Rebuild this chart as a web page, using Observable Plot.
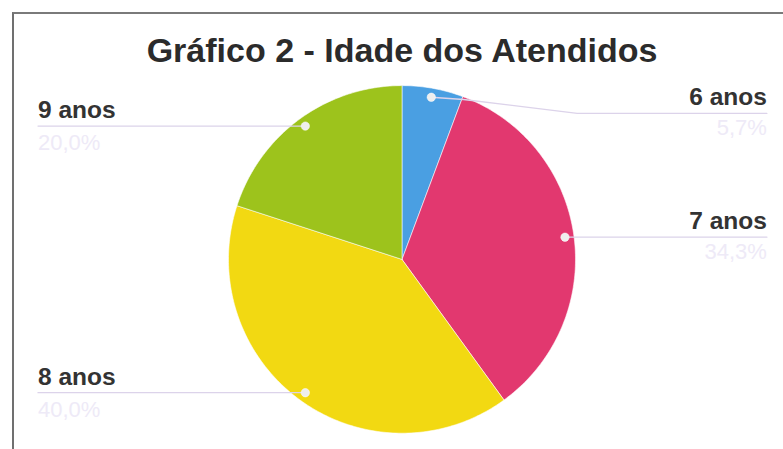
<!DOCTYPE html>
<html>
<head>
<meta charset="utf-8">
<script src="https://cdn.jsdelivr.net/npm/d3@7"></script>
<script src="https://cdn.jsdelivr.net/npm/@observablehq/plot@0.6"></script>
<style>
  html, body { margin: 0; padding: 0; background: #fff; }
  #wrap { position: relative; width: 783px; height: 449px; overflow: hidden; }
  #frame { position: absolute; left: 12px; top: 12px; right: -10px; bottom: -10px;
           border-left: 2px solid #707070; border-top: 2px solid #7a7a7a; pointer-events: none; }
  svg { font-family: "Liberation Sans", Arial, sans-serif; }
</style>
</head>
<body>
<div id="wrap"><div id="frame"></div></div>
<script>
// ---- data ----
const title = "Gráfico 2 - Idade dos Atendidos";
const categories = ["6 anos", "7 anos", "8 anos", "9 anos"];
const values = [5.7, 34.3, 40.0, 20.0];
const percentLabels = ["5,7%", "34,3%", "40,0%", "20,0%"];
const colors = ["#4a9fe2", "#e2386f", "#f2d912", "#9dc31c"];

// ---- layout (unit circle coordinates) ----
const dotRadius = 0.948;
const labelXRight = 2.103, labelXLeft = -2.098;
const titleY = 1.133;
// per-category leader override: bend points and label line height
const leaderOverride = {
  "6 anos": { bends: [[0.355, 0.92], [1.01, 0.84]], lineY: 0.84 }
};

// ---- geometry from data ----
const pie = d3.pie().sort(null).value(d => d)(values);
const polys = [];
pie.forEach((s, i) => {
  const cat = categories[i];
  polys.push({ cat, x: 0, y: 0 });
  const n = Math.max(4, Math.ceil((s.endAngle - s.startAngle) / (Math.PI / 180)));
  for (let k = 0; k <= n; k++) {
    const a = s.startAngle + (s.endAngle - s.startAngle) * k / n;
    polys.push({ cat, x: Math.sin(a), y: Math.cos(a) });
  }
  polys.push({ cat, x: 0, y: 0 });
});

const anchors = pie.map((s, i) => {
  const a = (s.startAngle + s.endAngle) / 2;
  const x = dotRadius * Math.sin(a), y = dotRadius * Math.cos(a);
  const right = x >= 0;
  const ov = leaderOverride[categories[i]];
  const lineY = ov ? ov.lineY : y;
  const lx = right ? labelXRight : labelXLeft;
  return { cat: categories[i], pct: percentLabels[i], x, y, right, lineY, lx, bends: ov ? ov.bends : [] };
});
const rightA = anchors.filter(d => d.right);
const leftA = anchors.filter(d => !d.right);

const leaders = [];
anchors.forEach(a => {
  leaders.push({ cat: a.cat, x: a.x, y: a.y });
  a.bends.forEach(([bx, by]) => leaders.push({ cat: a.cat, x: bx, y: by }));
  leaders.push({ cat: a.cat, x: a.lx, y: a.lineY });
});

const nameStyle = { lineAnchor: "bottom", dy: -8, fontSize: 24.5, fontWeight: "bold", fill: "#333333" };
const pctStyle = { lineAnchor: "bottom", fontSize: 22, fill: "#eeeaf7" };

const chart = Plot.plot({
  width: 783,
  height: 449,
  margin: 0,
  x: { type: "linear", domain: [-1, 1], range: [228, 575], axis: null },
  y: { type: "linear", domain: [-1, 1], range: [432.7, 85.1], axis: null },
  color: { domain: categories, range: colors },
  style: { background: "transparent", overflow: "visible" },
  marks: [
    Plot.line(polys, { x: "x", y: "y", z: "cat", fill: "cat", stroke: "#ffffff", strokeWidth: 0.8, strokeOpacity: 0.7, curve: "linear" }),
    Plot.line(leaders, { x: "x", y: "y", z: "cat", stroke: "#dcd3ea", strokeWidth: 1.3 }),
    Plot.dot(anchors, { x: "x", y: "y", r: 4.2, fill: "#eeeeee", stroke: "#ffffff", strokeWidth: 0.5 }),
    Plot.text(rightA, { x: "lx", y: "lineY", text: "cat", textAnchor: "end", ...nameStyle }),
    Plot.text(leftA, { x: "lx", y: "lineY", text: "cat", textAnchor: "start", ...nameStyle }),
    Plot.text(rightA, { x: "lx", y: "lineY", text: "pct", textAnchor: "end", dy: 22, ...pctStyle }),
    Plot.text(leftA, { x: "lx", y: "lineY", text: "pct", textAnchor: "start", dy: 24, ...pctStyle }),
    Plot.text([title], { x: [0], y: [titleY], text: d => d, lineAnchor: "bottom",
      fontSize: 34, fontWeight: "bold", fill: "#2b2b2b" })
  ]
});
document.getElementById("wrap").prepend(chart);
chart.style.position = "absolute";
chart.style.left = "0";
chart.style.top = "0";
</script>
</body>
</html>
